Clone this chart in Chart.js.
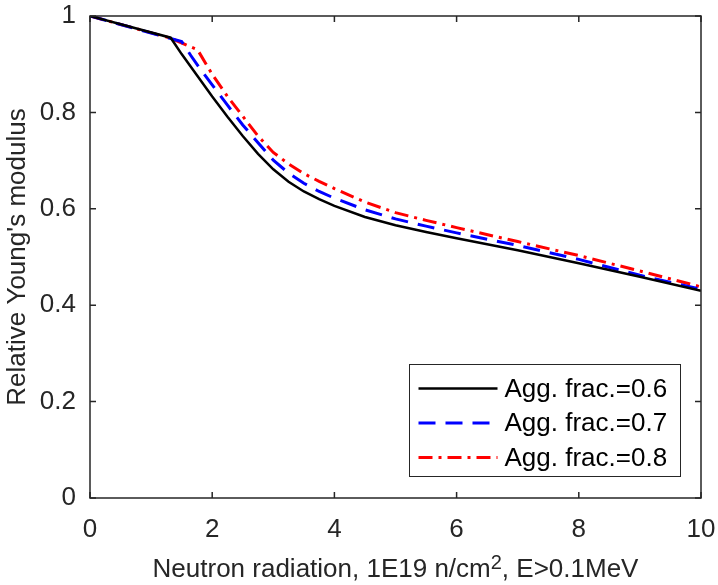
<!DOCTYPE html>
<html lang="en">
<head>
    <meta charset="UTF-8">
    <title>Relative Young's modulus</title>
    <script src="https://cdn.jsdelivr.net/npm/chart.js"></script>
    <style>
        html, body { margin: 0; padding: 0; background: #fff; }
        #wrap { width: 718px; height: 585px; }
    </style>
</head>
<body>
    <div id="wrap"><canvas id="youngChart" width="718" height="585"></canvas></div>

    <script>
        // data
        const xFrac06 = [0, 1.32, 1.5, 1.75, 2.0, 2.25, 2.5, 2.75, 3.0, 3.25, 3.5, 3.75, 4.0, 4.5, 5.0, 5.5, 6.0, 7.0, 8.0, 9.0, 10.0];
        const yFrac06 = [1.0, 0.955, 0.921, 0.877, 0.833, 0.791, 0.751, 0.714, 0.682, 0.656, 0.636, 0.620, 0.606, 0.583, 0.566, 0.552, 0.539, 0.514, 0.487, 0.459, 0.430];

        const xFrac07 = [0, 1.5, 1.65, 1.8, 2.0, 2.25, 2.5, 2.75, 3.0, 3.25, 3.5, 3.75, 4.0, 4.5, 5.0, 5.5, 6.0, 7.0, 8.0, 9.0, 10.0];
        const yFrac07 = [1.0, 0.947, 0.918, 0.891, 0.857, 0.815, 0.774, 0.737, 0.701, 0.674, 0.653, 0.636, 0.622, 0.598, 0.579, 0.564, 0.550, 0.524, 0.495, 0.462, 0.433];

        const xFrac08 = [0, 1.32, 1.76, 2.0, 2.25, 2.5, 2.75, 3.0, 3.25, 3.5, 3.75, 4.0, 4.5, 5.0, 5.5, 6.0, 7.0, 8.0, 9.0, 10.0];
        const yFrac08 = [1.0, 0.954, 0.930, 0.879, 0.833, 0.792, 0.751, 0.717, 0.693, 0.673, 0.657, 0.642, 0.614, 0.592, 0.576, 0.561, 0.532, 0.503, 0.471, 0.438];

        const seriesLabels = ['Agg. frac.=0.6', 'Agg. frac.=0.7', 'Agg. frac.=0.8'];
        const xTicks = [0, 2, 4, 6, 8, 10];
        const yTicks = [0, 0.2, 0.4, 0.6, 0.8, 1];
        const yTickLabels = ['0', '0.2', '0.4', '0.6', '0.8', '1'];

        const FONT = '"Liberation Sans", Arial, Helvetica, sans-serif';
        const AXIS = '#262626';

        const toPoints = (xs, ys) => xs.map((x, i) => ({ x: x, y: ys[i] }));

        // box, inner ticks, x label with superscript, legend
        const matlabAxes = {
            id: 'matlabAxes',
            afterDraw(chart) {
                const ctx = chart.ctx;
                const a = chart.chartArea;
                const sx = chart.scales.x, sy = chart.scales.y;
                const tl = 6;
                ctx.save();
                ctx.strokeStyle = AXIS;
                ctx.lineWidth = 1.5;
                ctx.strokeRect(a.left, a.top, a.right - a.left, a.bottom - a.top);
                ctx.beginPath();
                xTicks.forEach(v => {
                    const px = sx.getPixelForValue(v);
                    ctx.moveTo(px, a.bottom); ctx.lineTo(px, a.bottom - tl);
                    ctx.moveTo(px, a.top); ctx.lineTo(px, a.top + tl);
                });
                yTicks.forEach(v => {
                    const py = sy.getPixelForValue(v);
                    ctx.moveTo(a.left, py); ctx.lineTo(a.left + tl, py);
                    ctx.moveTo(a.right, py); ctx.lineTo(a.right - tl, py);
                });
                ctx.stroke();

                // x axis label, "2" as superscript
                const partA = 'Neutron radiation, 1E19 n/cm';
                const sup = '2';
                const partB = ', E>0.1MeV';
                ctx.fillStyle = AXIS;
                ctx.textBaseline = 'alphabetic';
                ctx.textAlign = 'left';
                ctx.font = '26px ' + FONT;
                const wA = ctx.measureText(partA).width;
                const wB = ctx.measureText(partB).width;
                ctx.font = '20px ' + FONT;
                const wS = ctx.measureText(sup).width;
                const total = wA + wS + wB;
                const x0 = (a.left + a.right) / 2 - total / 2;
                const base = 577;
                ctx.font = '26px ' + FONT;
                ctx.fillText(partA, x0, base);
                ctx.font = '20px ' + FONT;
                ctx.fillText(sup, x0 + wA, base - 8);
                ctx.font = '26px ' + FONT;
                ctx.fillText(partB, x0 + wA + wS, base);

                // legend
                const lx = 409.5, ly = 364.5, lw = 271, lh = 112;
                ctx.fillStyle = '#fff';
                ctx.fillRect(lx, ly, lw, lh);
                ctx.strokeStyle = AXIS;
                ctx.lineWidth = 1;
                ctx.strokeRect(lx, ly, lw, lh);
                chart.data.datasets.forEach((ds, i) => {
                    const ry = ly + 24 + i * 34.5;
                    ctx.beginPath();
                    ctx.strokeStyle = ds.borderColor;
                    ctx.lineWidth = ds.borderWidth;
                    ctx.setLineDash(ds.borderDash || []);
                    ctx.moveTo(lx + 9, ry);
                    ctx.lineTo(lx + 88, ry);
                    ctx.stroke();
                    ctx.setLineDash([]);
                    ctx.fillStyle = '#000';
                    ctx.font = '26px ' + FONT;
                    ctx.textBaseline = 'middle';
                    ctx.fillText(ds.label, lx + 95, ry + 1);
                });
                ctx.restore();
            }
        };

        const ctx = document.getElementById('youngChart').getContext('2d');
        const chart = new Chart(ctx, {
            type: 'scatter',
            data: {
                datasets: [
                    {
                        label: seriesLabels[0],
                        data: toPoints(xFrac06, yFrac06),
                        showLine: true,
                        borderColor: '#000000',
                        borderWidth: 2.5,
                        pointRadius: 0,
                        tension: 0
                    },
                    {
                        label: seriesLabels[1],
                        data: toPoints(xFrac07, yFrac07),
                        showLine: true,
                        borderColor: '#0000ff',
                        borderWidth: 3,
                        borderDash: [17, 10],
                        pointRadius: 0,
                        tension: 0
                    },
                    {
                        label: seriesLabels[2],
                        data: toPoints(xFrac08, yFrac08),
                        showLine: true,
                        borderColor: '#ff0000',
                        borderWidth: 3,
                        borderDash: [14, 6, 3, 6],
                        pointRadius: 0,
                        tension: 0
                    }
                ]
            },
            options: {
                responsive: false,
                animation: false,
                layout: { padding: { top: 16, right: 17, left: 0, bottom: 0 } },
                plugins: {
                    legend: { display: false },
                    tooltip: { enabled: false }
                },
                scales: {
                    x: {
                        type: 'linear',
                        min: 0,
                        max: 10,
                        afterBuildTicks: s => { s.ticks = xTicks.map(v => ({ value: v })); },
                        afterFit: s => { s.height = 87; s.paddingLeft = 0; s.paddingRight = 0; },
                        grid: { display: false, drawTicks: false },
                        border: { display: false },
                        ticks: {
                            color: AXIS,
                            font: { family: FONT, size: 26 },
                            padding: 16,
                            maxRotation: 0
                        }
                    },
                    y: {
                        min: 0,
                        max: 1,
                        afterBuildTicks: s => { s.ticks = yTicks.map(v => ({ value: v })); },
                        afterFit: s => { s.width = 90; s.paddingTop = 0; s.paddingBottom = 0; },
                        grid: { display: false, drawTicks: false },
                        border: { display: false },
                        ticks: {
                            color: AXIS,
                            font: { family: FONT, size: 26 },
                            padding: 14,
                            callback: (v, i) => yTickLabels[i]
                        },
                        title: {
                            display: true,
                            text: "Relative Young's modulus",
                            color: AXIS,
                            font: { family: FONT, size: 26 },
                            padding: { top: 2, bottom: 0 }
                        }
                    }
                }
            },
            plugins: [matlabAxes]
        });
    </script>
</body>
</html>
